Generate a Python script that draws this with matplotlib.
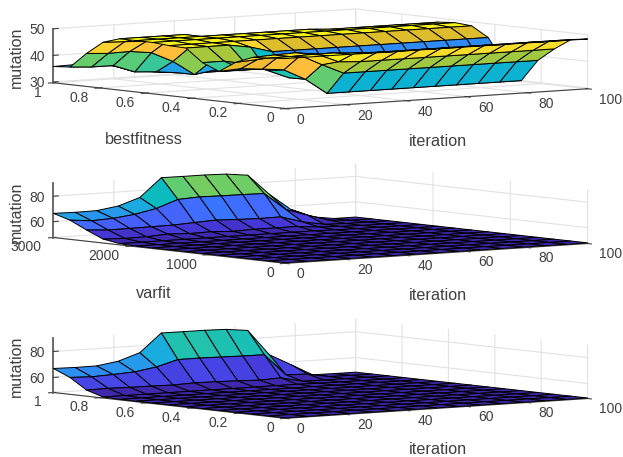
import numpy as np
import matplotlib
matplotlib.use("Agg")
import matplotlib.pyplot as plt
from matplotlib.colors import LinearSegmentedColormap, Normalize
from mpl_toolkits.mplot3d import Axes3D

plt.rcParams['font.family'] = ['Liberation Sans', 'DejaVu Sans']

parula = LinearSegmentedColormap.from_list("parula", [
    (0 / 63, (0.2422, 0.1504, 0.6603)), (4 / 63, (0.2706, 0.2147, 0.8364)), (9 / 63, (0.2810, 0.3228, 0.9579)),
    (13 / 63, (0.2602, 0.4123, 0.9952)), (16 / 63, (0.1963, 0.4847, 0.9892)), (19 / 63, (0.1764, 0.5499, 0.9520)),
    (23 / 63, (0.1380, 0.6276, 0.8973)), (26 / 63, (0.0952, 0.6798, 0.8598)), (29 / 63, (0.0036, 0.7203, 0.7917)),
    (32 / 63, (0.0964, 0.7500, 0.7120)), (35 / 63, (0.1938, 0.7758, 0.6251)), (38 / 63, (0.2906, 0.7973, 0.5188)),
    (41 / 63, (0.4456, 0.8024, 0.3909)), (44 / 63, (0.6174, 0.7876, 0.2612)), (47 / 63, (0.7738, 0.7598, 0.1646)),
    (50 / 63, (0.9035, 0.7330, 0.1774)), (53 / 63, (0.9956, 0.7434, 0.2371)), (56 / 63, (0.9892, 0.8135, 0.1885)),
    (59 / 63, (0.9610, 0.8890, 0.1537)), (63 / 63, (0.9769, 0.9839, 0.0805))])

iteration = np.linspace(0, 100, 15)
bestfitness = np.linspace(0, 1, 15)
varfit = np.linspace(0, 3000, 15)
mean = np.linspace(0, 1, 15)

# rows go with the second input, first row is the one nearest the viewer
z_best = np.array([
    [48.5, 48.5, 48.5, 48.5, 48.4, 48.4, 48.4, 48.4, 48.4, 48.4, 48.4, 48.4, 48.4, 48.4, 48.4],
    [48.0, 48.0, 48.3, 48.3, 47.8, 47.5, 47.5, 47.5, 47.5, 47.5, 47.5, 47.5, 47.5, 47.5, 47.5],
    [47.5, 47.9, 48.2, 47.2, 43.8, 43.3, 43.3, 43.3, 43.3, 43.3, 43.3, 43.3, 43.3, 43.3, 43.3],
    [45.0, 45.5, 46.2, 46.0, 42.0, 38.3, 38.3, 38.3, 38.3, 38.3, 38.3, 38.3, 38.3, 38.3, 38.3],
    [40.9, 41.4, 40.7, 39.9, 35.8, 30.0, 30.0, 30.0, 30.0, 30.0, 30.0, 30.0, 30.0, 30.0, 30.0],
    [43.5, 43.5, 42.0, 39.0, 35.7, 35.7, 35.7, 35.7, 35.7, 35.7, 35.7, 35.7, 35.7, 35.7, 35.7],
    [48.3, 48.3, 48.3, 47.0, 44.8, 44.8, 44.8, 44.8, 44.8, 44.8, 44.8, 44.8, 44.8, 44.8, 44.8],
    [48.5, 48.5, 48.5, 48.5, 48.5, 48.5, 48.5, 48.5, 48.5, 48.5, 48.5, 48.5, 48.5, 48.5, 48.5],
    [49.0, 49.0, 49.0, 49.0, 49.0, 49.0, 49.0, 49.0, 49.0, 49.0, 49.0, 49.0, 49.0, 49.0, 49.0],
    [49.0, 49.0, 49.0, 49.0, 49.0, 49.0, 49.0, 49.0, 49.0, 48.5, 48.5, 48.5, 48.5, 48.5, 48.5],
    [49.0, 49.0, 49.0, 49.0, 47.0, 43.5, 43.5, 43.5, 43.5, 43.5, 43.5, 43.5, 43.5, 43.5, 43.5],
    [47.0, 46.7, 46.3, 46.0, 42.9, 37.2, 36.0, 36.0, 36.0, 36.0, 36.0, 36.0, 36.0, 36.0, 36.0],
    [42.1, 41.6, 41.8, 40.8, 37.0, 31.5, 32.8, 32.0, 32.0, 32.0, 32.0, 32.0, 32.0, 32.0, 32.0],
    [36.3, 35.8, 35.8, 32.9, 32.4, 31.5, 31.0, 31.0, 31.0, 31.0, 31.0, 31.0, 31.0, 31.0, 31.0],
    [35.8, 36.0, 36.0, 34.0, 32.0, 31.0, 31.0, 31.0, 31.0, 31.0, 31.0, 31.0, 31.0, 31.0, 31.0],
])

z_var = np.full((15, 15), 48.0)
z_var[10] = [48.5, 48.5, 48.5, 48.5, 48.5, 48.5, 48.5, 48.5, 48.5, 48.5, 48.2, 48, 48, 48, 48]
z_var[11] = [50.6, 50.0, 50.2, 51.2, 50.5, 50.8, 50.0, 50.5, 50.5, 50.5, 49.0, 48.3, 48, 48, 48]
z_var[12] = [56.3, 55.2, 55.3, 55.5, 55.7, 56.6, 57.4, 56.8, 56.4, 56.6, 51.5, 48.5, 48, 48, 48]
z_var[13] = [62.6, 61.0, 61.8, 63.8, 67.3, 73.3, 74.2, 73.9, 73.8, 73.5, 59.8, 54.3, 49.2, 48, 48]
z_var[14] = [66.5, 66.2, 66.4, 68.9, 74.5, 89.0, 88.9, 88.9, 88.5, 86.5, 70.4, 57.3, 50.4, 48, 48]

z_mean = np.full((15, 15), 48.8)
z_mean[11] = [49.2, 49.2, 49.2, 49.2, 49.2, 49.2, 49.2, 49.2, 49.2, 49.2, 48.9, 48.8, 48.8, 48.8, 48.8]
z_mean[12] = [53.1, 53.3, 53.0, 52.9, 52.6, 53.2, 53.0, 52.6, 52.0, 52.7, 49.0, 48.8, 48.8, 48.8, 48.8]
z_mean[13] = [61.4, 60.8, 61.5, 62.4, 65.1, 69.7, 69.8, 69.5, 69.2, 69.1, 52.5, 52.0, 49.0, 48.8, 48.8]
z_mean[14] = [66.9, 66.6, 66.7, 69.2, 74.7, 88.8, 88.7, 88.7, 88.3, 86.4, 66.6, 57.9, 49.0, 48.8, 48.8]

W, H = 623, 457
SIZE = 700.0  # side of the (square) 3d axes in pixels
CENTER = 0.095 / 0.185  # where the box centre falls inside the axes


def panel(center_y, second, z, zlim, clim, yticks, yticklabels, zticks, ylabel, ylabel_x, label_y, zlabel_y):
    left = (320.5 - CENTER * SIZE) / W
    bottom = (H - center_y - CENTER * SIZE) / H
    ax = fig.add_axes([left, bottom, SIZE / W, SIZE / H], projection='3d', proj_type='ortho')
    ax.patch.set_alpha(0)
    ax.set_box_aspect((1, 1, 0.1423), zoom=0.751)
    ax.view_init(elev=4.9, azim=-127.5)

    X, Y = np.meshgrid(iteration, second)
    colors = parula(Normalize(*clim)(z))
    ax.plot_surface(X, Y, z, rstride=1, cstride=1, facecolors=colors, shade=False,
                    edgecolor='black', linewidth=0.7, antialiased=True)

    ax.set_xlim(0, 100)
    ax.set_ylim(second[0], second[-1])
    ax.set_zlim(*zlim)
    ax.set_xticks([0, 20, 40, 60, 80, 100])
    ax.set_yticks(yticks)
    ax.set_yticklabels(yticklabels)
    ax.set_zticks(zticks)
    ax.tick_params(axis='both', labelsize=10, colors='#404040', length=3, width=0.6)
    ax.tick_params(axis='x', pad=5)
    ax.tick_params(axis='y', pad=2)
    ax.tick_params(axis='z', pad=0)
    for lab in ax.get_xticklabels():
        lab.set_ha('left')
    for lab in ax.get_yticklabels():
        lab.set_ha('right')
    for lab in ax.get_zticklabels():
        lab.set_va('center_baseline')
    for axis in (ax.xaxis, ax.yaxis, ax.zaxis):
        axis.set_pane_color((1, 1, 1, 0))
        axis.pane.set_edgecolor((1, 1, 1, 0))
        axis.line.set_color('#404040')
        axis.line.set_linewidth(0.8)
        axis._axinfo['grid'].update(color='#e2e2e2', linewidth=0.8)
    ax.zaxis._axinfo['tick'].update(inward_factor=0.0, outward_factor=0.2)
    ax.zaxis.set_ticks_position('upper')
    ax.zaxis.line.set_color('#606060')
    ax.zaxis.line.set_linewidth(1.3)

    fig.text(438 / W, 1 - label_y / H, 'iteration', fontsize=11.7, color='#404040', ha='center', va='center')
    fig.text(ylabel_x / W, 1 - (label_y - 1) / H, ylabel, fontsize=11.7, color='#404040', ha='center', va='center')
    fig.text(16 / W, 1 - zlabel_y / H, 'mutation', fontsize=11.5, color='#404040', ha='center',
             va='center', rotation=90)
    return ax


fig = plt.figure(figsize=(W / 100, H / 100), dpi=100)

panel(58.75, bestfitness, z_best, (29.7, 50.0), (30, 49),
      [0, 0.2, 0.4, 0.6, 0.8, 1], ['0', '0.2', '0.4', '0.6', '0.8', '1'], [30, 40, 50],
      'bestfitness', 144, 141, 57)
panel(213.5, varfit, z_var, (47.5, 90.0), (48, 88),
      [0, 1000, 2000, 3000], ['0', '1000', '2000', '3000'], [60, 80],
      'varfit', 154, 295, 212)
panel(368.5, mean, z_mean, (48.4, 90.0), (48.8, 88.8),
      [0, 0.2, 0.4, 0.6, 0.8, 1], ['0', '0.2', '0.4', '0.6', '0.8', '1'], [60, 80],
      'mean', 162, 450, 366)

fig.savefig("out.png", dpi=100)
